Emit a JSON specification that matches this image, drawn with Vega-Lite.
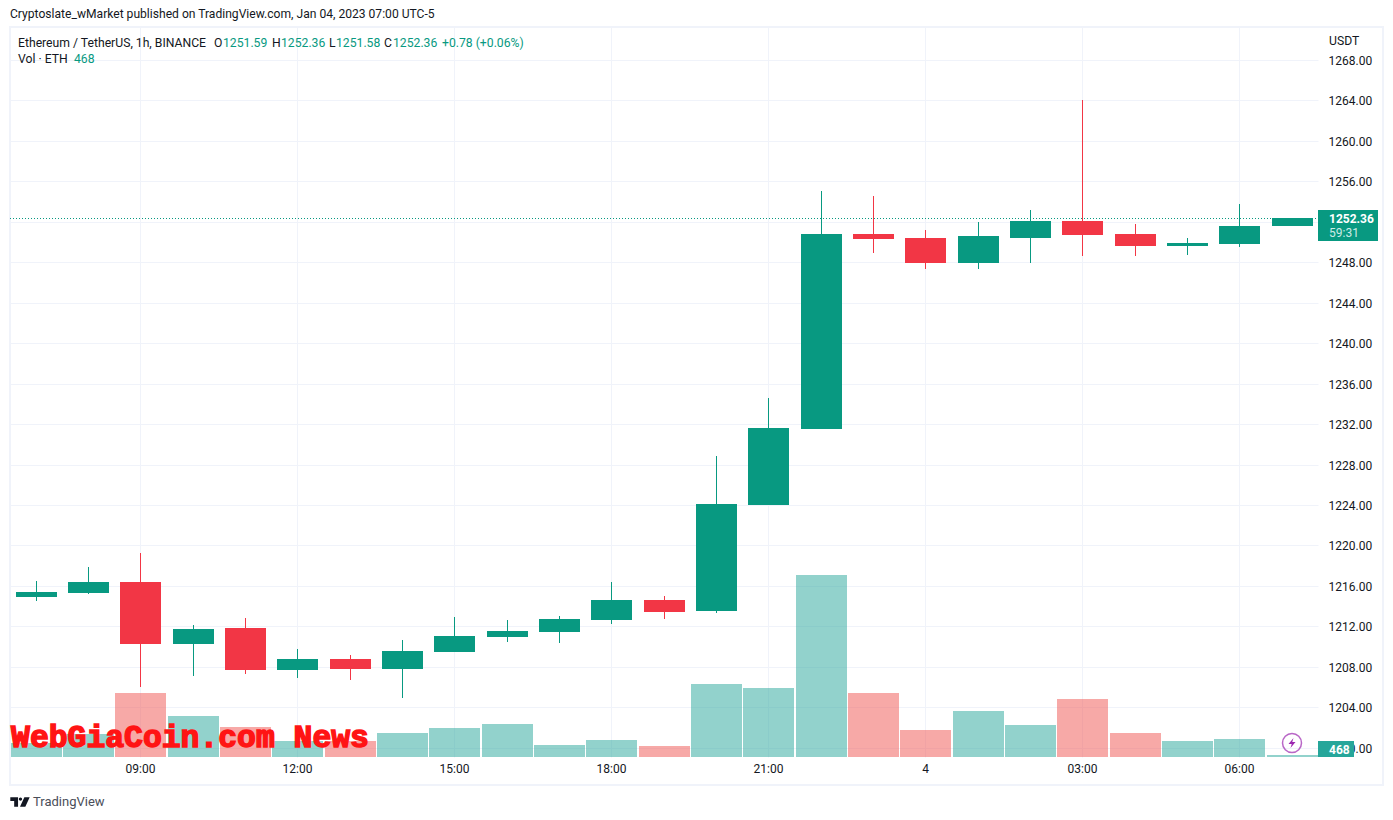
{
"$schema":"https://vega.github.io/schema/vega-lite/v6.json",
"autosize":"none","width":1308,"height":730,
"padding":{"left":10,"top":27,"right":75,"bottom":63},
"background":"#ffffff",
"title":{"text":"Cryptoslate_wMarket published on TradingView.com, Jan 04, 2023 07:00 UTC-5","anchor":"start","frame":"group","offset":6,"font":"Roboto","fontSize":12.1,"fontWeight":"normal","color":"#131722"},
"config":{"view":{"stroke":null},"text":{"font":"Roboto","fontSize":12.2}},
"datasets":{
"candles":[
{"at":"2023-01-03T07:00:00Z","open":1214.91,"high":1216.49,"low":1214.51,"close":1215.40,"vol":3276,"dir":"up"},
{"at":"2023-01-03T08:00:00Z","open":1215.30,"high":1217.87,"low":1215.20,"close":1216.39,"vol":5382,"dir":"up"},
{"at":"2023-01-03T09:00:00Z","open":1216.39,"high":1219.26,"low":1206.04,"close":1210.26,"vol":14976,"dir":"down"},
{"at":"2023-01-03T10:00:00Z","open":1210.26,"high":1212.14,"low":1207.10,"close":1211.74,"vol":9594,"dir":"up"},
{"at":"2023-01-03T11:00:00Z","open":1211.84,"high":1212.83,"low":1207.29,"close":1207.69,"vol":7020,"dir":"down"},
{"at":"2023-01-03T12:00:00Z","open":1207.69,"high":1209.77,"low":1206.90,"close":1208.78,"vol":3744,"dir":"up"},
{"at":"2023-01-03T13:00:00Z","open":1208.78,"high":1209.17,"low":1206.70,"close":1207.79,"vol":3744,"dir":"down"},
{"at":"2023-01-03T14:00:00Z","open":1207.79,"high":1210.66,"low":1204.92,"close":1209.57,"vol":5616,"dir":"up"},
{"at":"2023-01-03T15:00:00Z","open":1209.47,"high":1212.93,"low":1209.47,"close":1211.05,"vol":6786,"dir":"up"},
{"at":"2023-01-03T16:00:00Z","open":1210.95,"high":1212.63,"low":1210.46,"close":1211.55,"vol":7722,"dir":"up"},
{"at":"2023-01-03T17:00:00Z","open":1211.45,"high":1213.03,"low":1210.36,"close":1212.73,"vol":2808,"dir":"up"},
{"at":"2023-01-03T18:00:00Z","open":1212.63,"high":1216.39,"low":1212.24,"close":1214.61,"vol":3978,"dir":"up"},
{"at":"2023-01-03T19:00:00Z","open":1214.61,"high":1215.01,"low":1212.73,"close":1213.42,"vol":2574,"dir":"down"},
{"at":"2023-01-03T20:00:00Z","open":1213.52,"high":1228.85,"low":1213.33,"close":1224.10,"vol":17082,"dir":"up"},
{"at":"2023-01-03T21:00:00Z","open":1224.00,"high":1234.58,"low":1224.00,"close":1231.62,"vol":16146,"dir":"up"},
{"at":"2023-01-03T22:00:00Z","open":1231.52,"high":1255.05,"low":1231.52,"close":1250.80,"vol":42588,"dir":"up"},
{"at":"2023-01-03T23:00:00Z","open":1250.80,"high":1254.55,"low":1248.92,"close":1250.30,"vol":14976,"dir":"down"},
{"at":"2023-01-04T00:00:00Z","open":1250.40,"high":1251.19,"low":1247.34,"close":1247.93,"vol":6318,"dir":"down"},
{"at":"2023-01-04T01:00:00Z","open":1247.93,"high":1251.98,"low":1247.34,"close":1250.60,"vol":10764,"dir":"up"},
{"at":"2023-01-04T02:00:00Z","open":1250.40,"high":1253.17,"low":1247.93,"close":1252.08,"vol":7488,"dir":"up"},
{"at":"2023-01-04T03:00:00Z","open":1252.08,"high":1264.05,"low":1248.62,"close":1250.70,"vol":13572,"dir":"down"},
{"at":"2023-01-04T04:00:00Z","open":1250.80,"high":1251.79,"low":1248.62,"close":1249.61,"vol":5616,"dir":"down"},
{"at":"2023-01-04T05:00:00Z","open":1249.61,"high":1250.40,"low":1248.72,"close":1249.91,"vol":3744,"dir":"up"},
{"at":"2023-01-04T06:00:00Z","open":1249.81,"high":1253.76,"low":1249.51,"close":1251.59,"vol":4212,"dir":"up"},
{"at":"2023-01-04T07:00:00Z","open":1251.59,"high":1252.36,"low":1251.58,"close":1252.36,"vol":468,"dir":"up"}
],
"notes":[
{"group":"dark","at":"2023-01-03T06:39:47Z","price":1269.68,"label":"Ethereum / TetherUS, 1h, BINANCE"},
{"group":"dark","at":"2023-01-03T10:24:43Z","price":1269.68,"label":"O"},
{"group":"dark","at":"2023-01-03T11:31:00Z","price":1269.68,"label":"H"},
{"group":"dark","at":"2023-01-03T12:36:15Z","price":1269.68,"label":"L"},
{"group":"dark","at":"2023-01-03T13:39:25Z","price":1269.68,"label":"C"},
{"group":"dark","at":"2023-01-03T06:39:47Z","price":1268.1,"label":"Vol · ETH"},
{"group":"dark","at":"2023-01-04T07:43:00Z","price":1269.88,"label":"USDT"},
{"group":"green","at":"2023-01-03T10:34:56Z","price":1269.68,"label":"1251.59"},
{"group":"green","at":"2023-01-03T11:40:52Z","price":1269.68,"label":"1252.36"},
{"group":"green","at":"2023-01-03T12:44:02Z","price":1269.68,"label":"1251.58"},
{"group":"green","at":"2023-01-03T13:49:16Z","price":1269.68,"label":"1252.36"},
{"group":"green","at":"2023-01-03T14:45:21Z","price":1269.68,"label":"+0.78 (+0.06%)"},
{"group":"green","at":"2023-01-03T07:43:58Z","price":1268.1,"label":"468"},
{"group":"tag","at":"2023-01-04T07:43:00Z","price":1252.3,"label":"1252.36"},
{"group":"tag","at":"2023-01-04T07:43:00Z","price":1199.83,"label":"468"},
{"group":"tagsoft","at":"2023-01-04T07:43:00Z","price":1250.94,"label":"59:31"},
{"group":"brand","at":"2023-01-03T06:57:00Z","price":1194.64,"label":"TradingView"},
{"group":"mark","at":"2023-01-03T09:57:00Z","price":1200.97,"label":"WebGiaCoin.com News"}
],
"boxes":[
{"name":"last","at":"2023-01-04T07:30:18Z","at2":"2023-01-04T08:39:30Z","price":1253.17,"price2":1250.13},
{"name":"vol","at":"2023-01-04T07:30:18Z","at2":"2023-01-04T08:11:30Z","price":1200.67,"price2":1199.09}
],
"icons":[{"at":"2023-01-04T07:00:00Z","price":1200.47},{"at":"2023-01-03T06:42:00Z","price":1194.64}]
},
"encoding":{
"x":{"field":"at","type":"temporal","title":null,
"scale":{"type":"utc","domain":[1672727436000,1672817418000],"padding":0,"round":true},
"axis":{"values":[1672736400000,1672747200000,1672758000000,1672768800000,1672779600000,1672790400000,1672801200000,1672812000000],
"labelExpr":"utchours(datum.value)===0?utcFormat(datum.value,'%-d'):utcFormat(datum.value,'%H:%M')",
"grid":true,"gridColor":"#f0f3fa","gridWidth":1,"ticks":false,"domain":false,"labelPadding":6,"labelFont":"Roboto","labelFontSize":12,"labelColor":"#131722","labelFlush":false,"labelOverlap":false}}
},
"layer":[
{"data":{"name":"candles"},
"mark":{"type":"bar","size":51,"opacity":0.5,"xOffset":0.5},
"encoding":{
"y":{"field":"vol","type":"quantitative","axis":null,"scale":{"domain":[0,170820],"padding":0}},
"color":{"field":"dir","type":"nominal","legend":null,"scale":{"domain":["up","down"],"range":["#26A69A","#EF5350"]}}}},
{"layer":[
{"data":{"values":[{"at":"2023-01-03T06:30:36Z","at2":"2023-01-04T08:45:00Z","top":1271.26,"bottom":1196.32}]},
"mark":{"type":"rect","filled":false,"stroke":"#f0f3fa","strokeWidth":2},
"encoding":{"x2":{"field":"at2"},
"y":{"field":"top","type":"quantitative","title":null,"scale":{"domain":[1199.09,1271.26],"round":true},
"axis":{"orient":"right","values":[1200,1204,1208,1212,1216,1220,1224,1228,1232,1236,1240,1244,1248,1252,1256,1260,1264,1268],"labelExpr":"datum.value===1252?'':format(datum.value,'.2f')","grid":true,"gridColor":"#f0f3fa","gridWidth":1,"ticks":false,"domain":false,"labelPadding":10,"labelFont":"Roboto","labelFontSize":12,"labelColor":"#131722","labelAlign":"left","labelFlush":false,"labelOverlap":false}},
"y2":{"field":"bottom"}}},
{"data":{"values":[{"at":"2023-01-03T06:30:36Z","at2":"2023-01-04T07:30:18Z","last":1252.36}]},
"mark":{"type":"rule","stroke":"#089981","strokeWidth":1,"strokeDash":[1,2],"yOffset":0.5},
"encoding":{"x2":{"field":"at2"},"y":{"field":"last","type":"quantitative","title":null,"scale":{"domain":[1199.09,1271.26]}}}},
{"data":{"name":"candles"},
"mark":{"type":"rule","strokeWidth":1,"xOffset":0.5},
"encoding":{
"y":{"field":"high","type":"quantitative","title":null,"scale":{"domain":[1199.09,1271.26]}},
"y2":{"field":"low"},
"color":{"field":"dir","type":"nominal","legend":null,"scale":{"domain":["up","down"],"range":["#089981","#F23645"]}}}},
{"data":{"name":"candles"},
"mark":{"type":"bar","size":41,"xOffset":0.5},
"encoding":{
"y":{"field":"open","type":"quantitative","title":null,"scale":{"domain":[1199.09,1271.26]}},
"y2":{"field":"close"},
"color":{"field":"dir","type":"nominal","legend":null,"scale":{"domain":["up","down"],"range":["#089981","#F23645"]}}}},
{"data":{"name":"boxes"},"transform":[{"filter":"datum.name==='last'"}],
"mark":{"type":"rect","fill":"#089981"},
"encoding":{"x2":{"field":"at2"},"y":{"field":"price","type":"quantitative","title":null,"scale":{"domain":[1199.09,1271.26]}},"y2":{"field":"price2"}}},
{"data":{"name":"boxes"},"transform":[{"filter":"datum.name==='vol'"}],
"mark":{"type":"rect","fill":"#26A69A"},
"encoding":{"x2":{"field":"at2"},"y":{"field":"price","type":"quantitative","title":null,"scale":{"domain":[1199.09,1271.26]}},"y2":{"field":"price2"}}},
{"data":{"name":"notes"},"transform":[{"filter":"datum.group==='dark'"}],
"mark":{"type":"text","align":"left","baseline":"middle","color":"#131722"},
"encoding":{"y":{"field":"price","type":"quantitative","title":null,"scale":{"domain":[1199.09,1271.26]}},"text":{"field":"label"}}},
{"data":{"name":"notes"},"transform":[{"filter":"datum.group==='green'"}],
"mark":{"type":"text","align":"left","baseline":"middle","color":"#089981"},
"encoding":{"y":{"field":"price","type":"quantitative","title":null,"scale":{"domain":[1199.09,1271.26]}},"text":{"field":"label"}}},
{"data":{"name":"notes"},"transform":[{"filter":"datum.group==='tag'"}],
"mark":{"type":"text","align":"left","baseline":"middle","color":"#ffffff","fontWeight":"bold","fontSize":12},
"encoding":{"y":{"field":"price","type":"quantitative","title":null,"scale":{"domain":[1199.09,1271.26]}},"text":{"field":"label"}}},
{"data":{"name":"notes"},"transform":[{"filter":"datum.group==='tagsoft'"}],
"mark":{"type":"text","align":"left","baseline":"middle","color":"#cdebe6","fontSize":12},
"encoding":{"y":{"field":"price","type":"quantitative","title":null,"scale":{"domain":[1199.09,1271.26]}},"text":{"field":"label"}}},
{"data":{"name":"notes"},"transform":[{"filter":"datum.group==='brand'"}],
"mark":{"type":"text","align":"left","baseline":"middle","color":"#4a4e59","fontSize":13},
"encoding":{"y":{"field":"price","type":"quantitative","title":null,"scale":{"domain":[1199.09,1271.26]}},"text":{"field":"label"}}},
{"data":{"name":"notes"},"transform":[{"filter":"datum.group==='mark'"}],
"mark":{"type":"text","align":"center","baseline":"middle","color":"#ff1414","stroke":"#ff1414","strokeWidth":1.5,"font":"Liberation Mono","fontWeight":"bold","fontSize":31.4},
"encoding":{"y":{"field":"price","type":"quantitative","title":null,"scale":{"domain":[1199.09,1271.26]}},"text":{"field":"label"}}},
{"data":{"name":"icons"},"transform":[{"filter":"datum.price>1200"}],
"mark":{"type":"point","shape":"circle","filled":false,"stroke":"#9c27b0","strokeWidth":1.5,"size":361},
"encoding":{"y":{"field":"price","type":"quantitative","title":null,"scale":{"domain":[1199.09,1271.26]}}}},
{"data":{"name":"icons"},"transform":[{"filter":"datum.price>1200"}],
"mark":{"type":"point","shape":"M0.3,-1L-0.7,0.2L-0.05,0.2L-0.3,1L0.7,-0.2L0.05,-0.2Z","filled":true,"fill":"#9c27b0","opacity":1,"size":100},
"encoding":{"y":{"field":"price","type":"quantitative","title":null,"scale":{"domain":[1199.09,1271.26]}}}},
{"data":{"name":"icons"},"transform":[{"filter":"datum.price<1200"}],
"mark":{"type":"point","shape":"M-1,-0.48H-0.2V0.48H-0.6V-0.1H-1ZM-0.12,-0.3A0.17,0.17 0 1 0 0.22,-0.3A0.17,0.17 0 1 0 -0.12,-0.3ZM0.45,-0.48H1L0.55,0.48H0Z","filled":true,"fill":"#131722","opacity":1,"size":376},
"encoding":{"y":{"field":"price","type":"quantitative","title":null,"scale":{"domain":[1199.09,1271.26]}}}}
]}
],
"resolve":{"scale":{"y":"independent","color":"independent"}}
}
